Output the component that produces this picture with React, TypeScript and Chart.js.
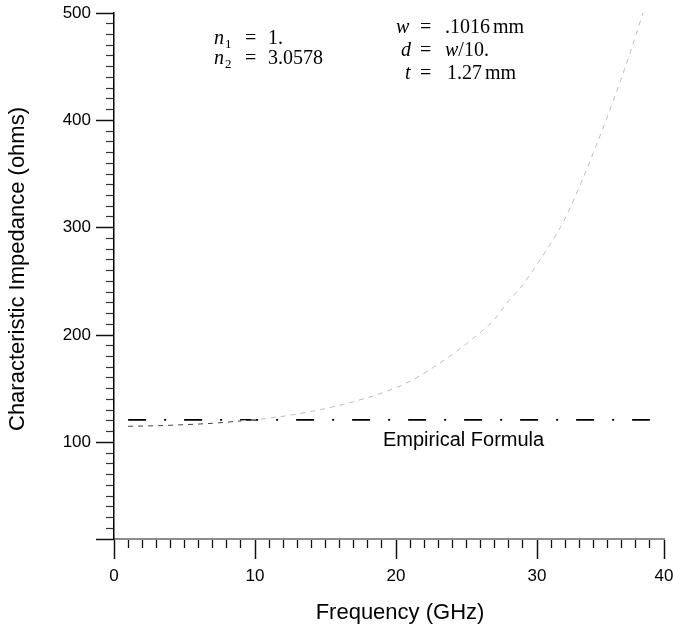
import React, { useEffect, useRef } from 'react';
import { Chart, registerables } from 'chart.js';

Chart.register(...registerables);

// ---- data ----
const freqLow = [1, 3, 5, 7, 9];
const impLow = [115, 115.5, 116.5, 117.8, 120];

const freqFull = [9, 11, 13, 15, 17, 19, 21, 23, 25, 27, 28, 29, 30, 31, 32, 33, 34, 35, 36, 37, 37.5];
const impFull = [120, 122.5, 126.5, 131.5, 138, 146, 157, 173, 192, 215, 232, 247, 266, 286, 309, 338, 370, 404, 440, 479, 500];

const freqEmpirical = [1, 38];
const impEmpirical = [121, 121];

const xMajorTicks = [0, 10, 20, 30, 39];
const xMajorLabels = ['0', '10', '20', '30', '40'];
const yMajorTicks = [10, 100, 200, 300, 400, 500];
const yMajorLabels = ['', '100', '200', '300', '400', '500'];

const xMin = 0;
const xMax = 39;
const yMin = 10;
const yMax = 500;

const SANS = '"Liberation Sans", Arial, sans-serif';
const SERIF = '"Liberation Serif", "Times New Roman", serif';

function minorTicks(from: number, to: number, step: number, skip: number[]) {
  const out: { value: number }[] = [];
  for (let v = from; v <= to + 1e-9; v += step) {
    if (!skip.includes(v)) out.push({ value: v });
  }
  return out;
}

const textPlugin = {
  id: 'texts',
  afterDraw(chart: any) {
    const ctx = chart.ctx as CanvasRenderingContext2D;
    ctx.save();
    ctx.fillStyle = '#000';

    // axis titles
    ctx.font = `22px ${SANS}`;
    ctx.textAlign = 'center';
    ctx.textBaseline = 'middle';
    ctx.fillText('Frequency (GHz)', 400, 613);
    ctx.save();
    ctx.translate(18, 269);
    ctx.rotate(-Math.PI / 2);
    ctx.fillText('Characteristic Impedance (ohms)', 0, 0);
    ctx.restore();

    // curve label
    ctx.font = `20px ${SANS}`;
    ctx.textAlign = 'left';
    ctx.textBaseline = 'alphabetic';
    ctx.fillText('Empirical Formula', 383, 446);

    // parameter annotations
    const put = (t: string, x: number, y: number, italic = false, size = 20) => {
      ctx.font = `${italic ? 'italic ' : ''}${size}px ${SERIF}`;
      ctx.fillText(t, x, y);
      return x + ctx.measureText(t).width;
    };
    put('n', 214, 44, true);
    put('1', 225, 48, false, 13);
    put('=', 245, 44);
    put('1.', 268, 44);

    put('n', 214, 64, true);
    put('2', 225, 68, false, 13);
    put('=', 245, 64);
    put('3.0578', 268, 64);

    put('w', 396, 33, true);
    put('=', 420, 33);
    const e1 = put('.1016', 445, 33);
    put('mm', e1 + 3, 33);

    put('d', 401, 56, true);
    put('=', 420, 56);
    const e2 = put('w', 445, 56, true);
    put('/10.', e2, 56);

    put('t', 405, 79, true);
    put('=', 420, 79);
    const e3 = put('1.27', 447, 79);
    put('mm', e3 + 3, 79);

    ctx.restore();
  },
};

export default function App() {
  const ref = useRef<HTMLCanvasElement | null>(null);

  useEffect(() => {
    if (!ref.current) return;
    const toXY = (xs: number[], ys: number[]) => xs.map((x, i) => ({ x, y: ys[i] }));

    const chart = new Chart(ref.current, {
      type: 'line',
      data: {
        datasets: [
          {
            label: 'Computed',
            data: toXY(freqFull, impFull),
            borderColor: '#bdbdbd',
            borderWidth: 1,
            borderDash: [5, 5],
            pointRadius: 0,
            cubicInterpolationMode: 'monotone',
            xAxisID: 'x',
            yAxisID: 'y',
          },
          {
            label: 'Computed (low frequency)',
            data: toXY(freqLow, impLow),
            borderColor: '#444',
            borderWidth: 1,
            borderDash: [5, 5],
            pointRadius: 0,
            cubicInterpolationMode: 'monotone',
            xAxisID: 'x',
            yAxisID: 'y',
          },
          {
            label: 'Empirical Formula',
            data: toXY(freqEmpirical, impEmpirical),
            borderColor: '#000',
            borderWidth: 1.6,
            borderDash: [18, 18, 2, 18],
            pointRadius: 0,
            xAxisID: 'x',
            yAxisID: 'y',
          },
        ],
      },
      options: {
        responsive: false,
        animation: false,
        devicePixelRatio: 1,
        layout: { padding: { left: 0, right: 9, top: 13, bottom: 91 } },
        plugins: { legend: { display: false }, tooltip: { enabled: false } },
        scales: {
          x: {
            type: 'linear',
            min: xMin,
            max: xMax,
            position: { y: yMin } as any,
            grid: { drawOnChartArea: false, drawTicks: true, tickLength: 19, tickColor: '#111', tickWidth: 1.5 },
            border: { display: true, color: '#8c8c8c', width: 2 },
            ticks: {
              font: { family: SANS, size: 17 },
              color: '#000',
              padding: 8,
              autoSkip: false,
              maxRotation: 0,
              callback: (v: any) => {
                const i = xMajorTicks.indexOf(Number(v));
                return i >= 0 ? xMajorLabels[i] : '';
              },
            },
            afterBuildTicks: (s: any) => {
              s.ticks = xMajorTicks.map((value) => ({ value }));
            },
            afterFit: (s: any) => {
              s.paddingLeft = 0;
              s.paddingRight = 0;
              s.paddingTop = 0;
              s.paddingBottom = 0;
            },
          },
          x2: {
            type: 'linear',
            min: xMin,
            max: xMax,
            position: { y: yMin } as any,
            grid: { drawOnChartArea: false, drawTicks: true, tickLength: 9, tickColor: '#111', tickWidth: 1.3 },
            border: { display: false },
            ticks: { display: false },
            afterBuildTicks: (s: any) => {
              s.ticks = minorTicks(1, 38, 1, xMajorTicks);
            },
            afterFit: (s: any) => {
              s.paddingLeft = 0;
              s.paddingRight = 0;
              s.paddingTop = 0;
              s.paddingBottom = 0;
            },
          },
          y: {
            type: 'linear',
            min: yMin,
            max: yMax,
            position: 'left',
            grid: { drawOnChartArea: false, drawTicks: true, tickLength: 18, tickColor: '#111', tickWidth: 1.5 },
            border: { display: true, color: '#000', width: 1.5 },
            ticks: {
              font: { family: SANS, size: 17 },
              color: '#000',
              padding: 5,
              autoSkip: false,
              callback: (v: any) => {
                const i = yMajorTicks.indexOf(Number(v));
                return i >= 0 ? yMajorLabels[i] : '';
              },
            },
            afterBuildTicks: (s: any) => {
              s.ticks = yMajorTicks.map((value) => ({ value }));
            },
            afterFit: (s: any) => {
              s.width = 114;
              s.paddingTop = 0;
              s.paddingBottom = 0;
            },
          },
          y2: {
            type: 'linear',
            min: yMin,
            max: yMax,
            position: { x: xMin } as any,
            grid: { drawOnChartArea: false, drawTicks: true, tickLength: 8, tickColor: '#333', tickWidth: 1.2 },
            border: { display: false },
            ticks: { display: false },
            afterBuildTicks: (s: any) => {
              s.ticks = minorTicks(20, 490, 10, yMajorTicks);
            },
            afterFit: (s: any) => {
              s.paddingTop = 0;
              s.paddingBottom = 0;
            },
          },
        },
      } as any,
      plugins: [textPlugin],
    });

    return () => chart.destroy();
  }, []);

  return (
    <div style={{ position: 'absolute', left: 0, top: 0, width: 673, height: 630, background: '#fff' }}>
      <canvas ref={ref} width={673} height={630} style={{ display: 'block' }} />
    </div>
  );
}
